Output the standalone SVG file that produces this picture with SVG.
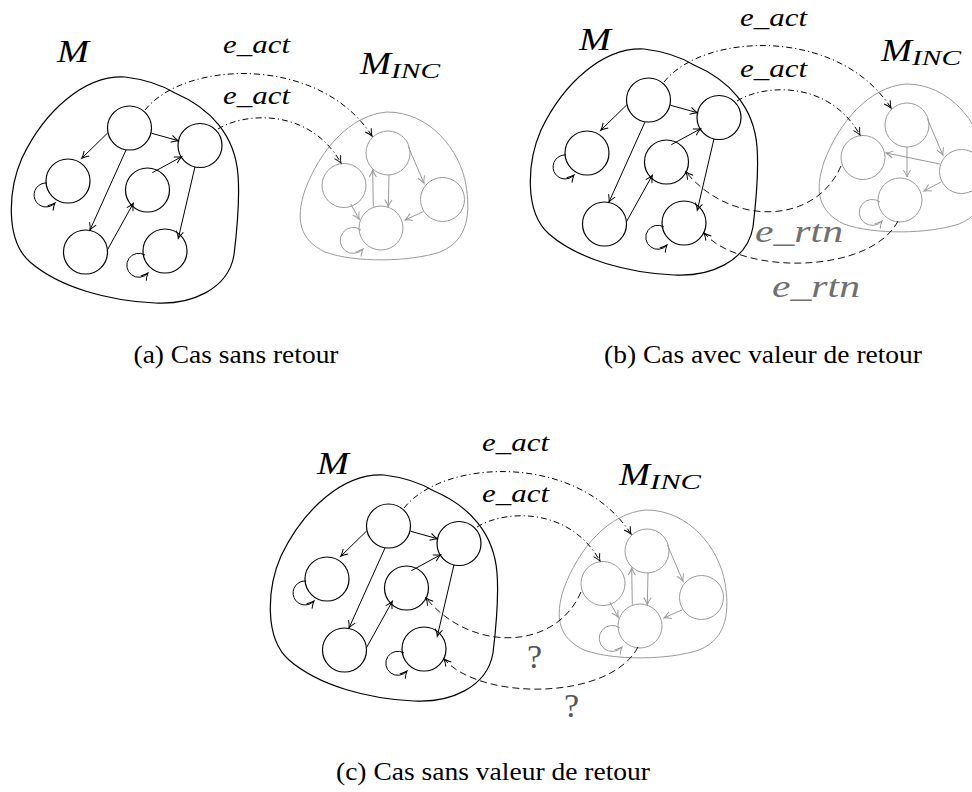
<svg xmlns="http://www.w3.org/2000/svg" width="972" height="792" viewBox="0 0 972 792">
<style>
.bg{fill:#fff}
.nd{fill:#fff;stroke:#000;stroke-width:1.2}
.gn{fill:#fff;stroke:#9a9a9a;stroke-width:1}
.blob{fill:none;stroke:#000;stroke-width:1.2}
.gblob{fill:none;stroke:#9a9a9a;stroke-width:1}
.e{fill:none;stroke:#000;stroke-width:1;marker-end:url(#ab)}
.ge{fill:none;stroke:#9a9a9a;stroke-width:1;marker-end:url(#ag)}
.dd{fill:none;stroke:#000;stroke-width:1;stroke-dasharray:6 3 1.2 3;marker-end:url(#ab)}
.ds{fill:none;stroke:#111;stroke-width:1;stroke-dasharray:7 4;marker-end:url(#ab)}
.m{font-style:italic;fill:#000}
.cap{font-size:26px;fill:#000}
.gl{font-style:italic;fill:#707070}
.q{font-size:34px;fill:#555}
</style>
<defs>
<marker id="ab" viewBox="-9 -5 10 10" refX="0" refY="0" markerWidth="10" markerHeight="10" markerUnits="userSpaceOnUse" orient="auto" overflow="visible">
<path d="M-7,-3.6 Q-3,-0.9 0,0 Q-3,0.9 -7,3.6" fill="none" stroke="#000" stroke-width="1"/>
</marker>
<marker id="ag" viewBox="-9 -5 10 10" refX="0" refY="0" markerWidth="10" markerHeight="10" markerUnits="userSpaceOnUse" orient="auto" overflow="visible">
<path d="M-7,-3.6 Q-3,-0.9 0,0 Q-3,0.9 -7,3.6" fill="none" stroke="#9a9a9a" stroke-width="1"/>
</marker>
</defs>
<rect class="bg" x="0" y="0" width="972" height="792"/>

<g id="panel-a">
  <g id="a-M"><path class="blob" d="M125,77 C150,80 165,87 175,93 C210,108 235,135 238,175 C240,200 237,230 234,255 C228,290 190,305 155,303 C110,301 60,288 30,262 C5,240 8,190 22,158 C45,110 85,75 125,77 Z"/></g>
  <g id="a-MINC"><path class="gblob" d="M387,112 C350,115 320,150 305,190 C295,220 300,240 325,252 C355,263 410,262 440,252 C470,240 470,210 466,185 C460,150 430,112 387,112 Z"/></g>
  <g id="a-n1"><circle class="nd" cx="129.5" cy="128" r="22"/></g>
  <g id="a-n2"><circle class="nd" cx="200" cy="145.5" r="22"/></g>
  <g id="a-n3"><circle class="nd" cx="68" cy="181" r="22"/></g>
  <g id="a-n4"><circle class="nd" cx="147.5" cy="190" r="22"/></g>
  <g id="a-n5"><circle class="nd" cx="85.5" cy="252" r="22"/></g>
  <g id="a-n6"><circle class="nd" cx="165" cy="251" r="22"/></g>
  <g id="a-g1"><circle class="gn" cx="388" cy="153" r="22"/></g>
  <g id="a-g2"><circle class="gn" cx="344" cy="185.5" r="22"/></g>
  <g id="a-g3"><circle class="gn" cx="442.5" cy="199.5" r="22"/></g>
  <g id="a-g4"><circle class="gn" cx="381" cy="228" r="22"/></g>
  <g id="a-connectors">
    <path class="e" d="M107.3,133.3 L81.7,158.3"/>
    <path class="e" d="M151.7,133.3 L178.3,140.7"/>
    <path class="e" d="M126,150 L90,230"/>
    <path class="e" d="M107.3,250 L133.3,203.3"/>
    <path class="e" d="M152.3,172.7 L181.7,156.7"/>
    <path class="e" d="M195,166.7 L178.3,238.3"/>
    <path class="e" d="M47,183 A12,12 0 1 0 55,203"/>
    <path class="e" d="M145,255 A12,12 0 1 0 148,273"/>
    <path class="ge" d="M408.3,146.7 L424,183.3"/>
    <path class="ge" d="M389,175 L388.3,206.7"/>
    <path class="ge" d="M373.3,206.7 L372.7,170"/>
    <path class="ge" d="M350.7,204 L359.3,219.3"/>
    <path class="ge" d="M423.3,211.7 L405,220"/>
    <path class="ge" d="M361,230 A13,13 0 1 0 363,249"/>
    <path class="dd" d="M145,110 C185,60 320,55 372,136"/>
    <path class="dd" d="M218,129 C245,112 310,108 341,163"/>
  </g>
  <g font-family="Liberation Serif, serif">
    <text class="m" x="57" y="62" font-size="32" textLength="32" lengthAdjust="spacingAndGlyphs">M</text>
    <text class="m" x="223" y="53" font-size="26" textLength="67" lengthAdjust="spacingAndGlyphs">e_act</text>
    <text class="m" x="223" y="104" font-size="26" textLength="67" lengthAdjust="spacingAndGlyphs">e_act</text>
    <text class="m" x="360" y="74" font-size="32" textLength="31" lengthAdjust="spacingAndGlyphs">M</text>
    <text class="m" x="391" y="78" font-size="20" textLength="49" lengthAdjust="spacingAndGlyphs">INC</text>
    <text class="cap" x="236" y="363" text-anchor="middle" textLength="205" lengthAdjust="spacingAndGlyphs">(a) Cas sans retour</text>
  </g>
</g>

<g id="panel-b">
  <g transform="translate(519,-28)">
    <g id="b-M"><path class="blob" d="M125,77 C150,80 165,87 175,93 C210,108 235,135 238,175 C240,200 237,230 234,255 C228,290 190,305 155,303 C110,301 60,288 30,262 C5,240 8,190 22,158 C45,110 85,75 125,77 Z"/></g>
    <g id="b-MINC"><path class="gblob" d="M387,112 C350,115 320,150 305,190 C295,220 300,240 325,252 C355,263 410,262 440,252 C470,240 470,210 466,185 C460,150 430,112 387,112 Z"/></g>
    <g id="b-n1"><circle class="nd" cx="129.5" cy="128" r="22"/></g>
    <g id="b-n2"><circle class="nd" cx="200" cy="145.5" r="22"/></g>
    <g id="b-n3"><circle class="nd" cx="68" cy="181" r="22"/></g>
    <g id="b-n4"><circle class="nd" cx="147.5" cy="190" r="22"/></g>
    <g id="b-n5"><circle class="nd" cx="85.5" cy="252" r="22"/></g>
    <g id="b-n6"><circle class="nd" cx="165" cy="251" r="22"/></g>
    <g id="b-g1"><circle class="gn" cx="388" cy="153" r="22"/></g>
    <g id="b-g2"><circle class="gn" cx="344" cy="185.5" r="22"/></g>
    <g id="b-g3"><circle class="gn" cx="442.5" cy="199.5" r="22"/></g>
    <g id="b-g4"><circle class="gn" cx="381" cy="228" r="22"/></g>
    <g id="b-connectors">
      <path class="e" d="M107.3,133.3 L81.7,158.3"/>
      <path class="e" d="M151.7,133.3 L178.3,140.7"/>
      <path class="e" d="M126,150 L90,230"/>
      <path class="e" d="M107.3,250 L133.3,203.3"/>
      <path class="e" d="M152.3,172.7 L181.7,156.7"/>
      <path class="e" d="M195,166.7 L178.3,238.3"/>
      <path class="e" d="M47,183 A12,12 0 1 0 55,203"/>
      <path class="e" d="M145,255 A12,12 0 1 0 148,273"/>
      <path class="ge" d="M408.3,146.7 L424,183.3"/>
      <path class="ge" d="M388,175 L388,205"/>
      <path class="ge" d="M421,192 L367,181"/>
      <path class="ge" d="M422,210 L405,219"/>
      <path class="ge" d="M361,230 A13,13 0 1 0 363,249"/>
      <path class="dd" d="M145,110 C185,60 320,55 372,136"/>
      <path class="dd" d="M218,129 C245,112 310,108 341,163"/>
      <path class="ds" d="M322,194 C296,254 211,254 167,200"/>
      <path class="ds" d="M379,249 C351,303 221,303 185,261"/>
    </g>
  </g>
  <g font-family="Liberation Serif, serif">
    <text class="m" x="579" y="50" font-size="32" textLength="32" lengthAdjust="spacingAndGlyphs">M</text>
    <text class="m" x="740" y="26" font-size="26" textLength="67" lengthAdjust="spacingAndGlyphs">e_act</text>
    <text class="m" x="740" y="77" font-size="26" textLength="67" lengthAdjust="spacingAndGlyphs">e_act</text>
    <text class="m" x="881" y="61" font-size="32" textLength="31" lengthAdjust="spacingAndGlyphs">M</text>
    <text class="m" x="912" y="65" font-size="20" textLength="49" lengthAdjust="spacingAndGlyphs">INC</text>
    <text class="gl" x="755" y="242" font-size="31" textLength="88" lengthAdjust="spacingAndGlyphs">e_rtn</text>
    <text class="gl" x="772" y="297" font-size="31" textLength="88" lengthAdjust="spacingAndGlyphs">e_rtn</text>
    <text class="cap" x="763" y="363" text-anchor="middle" textLength="318" lengthAdjust="spacingAndGlyphs">(b) Cas avec valeur de retour</text>
  </g>
</g>

<g id="panel-c">
  <g transform="translate(259,398)">
    <g id="c-M"><path class="blob" d="M125,77 C150,80 165,87 175,93 C210,108 235,135 238,175 C240,200 237,230 234,255 C228,290 190,305 155,303 C110,301 60,288 30,262 C5,240 8,190 22,158 C45,110 85,75 125,77 Z"/></g>
    <g id="c-MINC"><path class="gblob" d="M387,112 C350,115 320,150 305,190 C295,220 300,240 325,252 C355,263 410,262 440,252 C470,240 470,210 466,185 C460,150 430,112 387,112 Z"/></g>
    <g id="c-n1"><circle class="nd" cx="129.5" cy="128" r="22"/></g>
    <g id="c-n2"><circle class="nd" cx="200" cy="145.5" r="22"/></g>
    <g id="c-n3"><circle class="nd" cx="68" cy="181" r="22"/></g>
    <g id="c-n4"><circle class="nd" cx="147.5" cy="190" r="22"/></g>
    <g id="c-n5"><circle class="nd" cx="85.5" cy="252" r="22"/></g>
    <g id="c-n6"><circle class="nd" cx="165" cy="251" r="22"/></g>
    <g id="c-g1"><circle class="gn" cx="388" cy="153" r="22"/></g>
    <g id="c-g2"><circle class="gn" cx="344" cy="185.5" r="22"/></g>
    <g id="c-g3"><circle class="gn" cx="442.5" cy="199.5" r="22"/></g>
    <g id="c-g4"><circle class="gn" cx="381" cy="228" r="22"/></g>
    <g id="c-connectors">
      <path class="e" d="M107.3,133.3 L81.7,158.3"/>
      <path class="e" d="M151.7,133.3 L178.3,140.7"/>
      <path class="e" d="M126,150 L90,230"/>
      <path class="e" d="M107.3,250 L133.3,203.3"/>
      <path class="e" d="M152.3,172.7 L181.7,156.7"/>
      <path class="e" d="M195,166.7 L178.3,238.3"/>
      <path class="e" d="M47,183 A12,12 0 1 0 55,203"/>
      <path class="e" d="M145,255 A12,12 0 1 0 148,273"/>
      <path class="ge" d="M408.3,146.7 L424,183.3"/>
      <path class="ge" d="M389,175 L388.3,206.7"/>
      <path class="ge" d="M373.3,206.7 L372.7,170"/>
      <path class="ge" d="M350.7,204 L359.3,219.3"/>
      <path class="ge" d="M423.3,211.7 L405,220"/>
      <path class="ge" d="M361,230 A13,13 0 1 0 363,249"/>
      <path class="dd" d="M145,110 C185,60 320,55 372,136"/>
      <path class="dd" d="M218,129 C245,112 310,108 341,163"/>
      <path class="ds" d="M322,194 C296,254 211,254 167,200"/>
      <path class="ds" d="M379,249 C351,303 221,303 185,261"/>
    </g>
  </g>
  <g font-family="Liberation Serif, serif">
    <text class="m" x="317" y="474" font-size="32" textLength="32" lengthAdjust="spacingAndGlyphs">M</text>
    <text class="m" x="482" y="451" font-size="26" textLength="67" lengthAdjust="spacingAndGlyphs">e_act</text>
    <text class="m" x="482" y="502" font-size="26" textLength="67" lengthAdjust="spacingAndGlyphs">e_act</text>
    <text class="m" x="619" y="485" font-size="32" textLength="31" lengthAdjust="spacingAndGlyphs">M</text>
    <text class="m" x="650" y="489" font-size="20" textLength="51" lengthAdjust="spacingAndGlyphs">INC</text>
    <text class="q" x="527" y="668">?</text>
    <text class="q" x="564" y="717">?</text>
    <text class="cap" x="493" y="780" text-anchor="middle" textLength="314" lengthAdjust="spacingAndGlyphs">(c) Cas sans valeur de retour</text>
  </g>
</g>
</svg>
